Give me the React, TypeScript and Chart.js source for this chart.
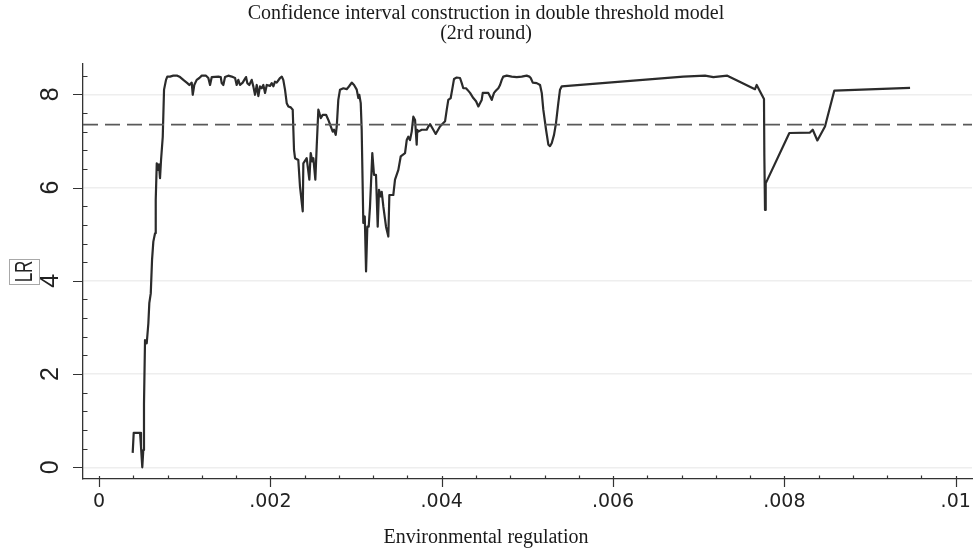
import { useEffect, useRef } from 'react';
import { Chart, registerables } from 'chart.js';

Chart.register(...registerables);

const TITLE_LINES = ['Confidence interval construction in double threshold model', '(2rd round)'];
const X_TITLE = 'Environmental regulation';
const Y_TITLE = 'LR';

const X_TICKS = [0, 0.002, 0.004, 0.006, 0.008, 0.01];
const X_TICK_LABELS = ['0', '.002', '.004', '.006', '.008', '.01'];
const Y_TICKS = [0, 2, 4, 6, 8];
const Y_TICK_LABELS = ['0', '2', '4', '6', '8'];

const THRESHOLD = 7.35;

const ENV_REG = [
  0.000393, 0.000405, 0.000479, 0.000490, 0.000505, 0.000517, 0.000525, 0.000537, 0.000557, 0.000576,
  0.000587, 0.000604, 0.000619, 0.000634, 0.000654, 0.000662, 0.000674, 0.000692, 0.000700, 0.000712,
  0.000724, 0.000744, 0.000759, 0.000782, 0.000797, 0.000829, 0.000867, 0.000914, 0.000946, 0.000984,
  0.001031, 0.001054, 0.001082, 0.001094, 0.001112, 0.001140, 0.001171, 0.001199, 0.001249, 0.001276,
  0.001296, 0.001316, 0.001393, 0.001421, 0.001432, 0.001451, 0.001471, 0.001509, 0.001549, 0.001588,
  0.001607, 0.001626, 0.001646, 0.001677, 0.001696, 0.001716, 0.001731, 0.001754, 0.001782, 0.001801,
  0.001821, 0.001841, 0.001860, 0.001879, 0.001899, 0.001918, 0.001938, 0.001958, 0.001996, 0.002016,
  0.002035, 0.002054, 0.002074, 0.002113, 0.002133, 0.002151, 0.002171, 0.002191, 0.002210, 0.002238,
  0.002261, 0.002276, 0.002288, 0.002326, 0.002346, 0.002378, 0.002385, 0.002424, 0.002455, 0.002471,
  0.002490, 0.002502, 0.002525, 0.002541, 0.002560, 0.002572, 0.002588, 0.002611, 0.002650, 0.002677,
  0.002705, 0.002728, 0.002743, 0.002763, 0.002775, 0.002793, 0.002813, 0.002852, 0.002891, 0.002910,
  0.002930, 0.002950, 0.002977, 0.003008, 0.003027, 0.003038, 0.003055, 0.003066, 0.003085, 0.003102,
  0.003117, 0.003132, 0.003148, 0.003163, 0.003190, 0.003210, 0.003233, 0.003253, 0.003268, 0.003288,
  0.003300, 0.003319, 0.003350, 0.003377, 0.003389, 0.003435, 0.003455, 0.003494, 0.003522, 0.003572,
  0.003592, 0.003610, 0.003630, 0.003650, 0.003669, 0.003689, 0.003708, 0.003715, 0.003727, 0.003767,
  0.003825, 0.003844, 0.003864, 0.003902, 0.003930, 0.003980, 0.004039, 0.004059, 0.004077, 0.004105,
  0.004129, 0.004144, 0.004175, 0.004214, 0.004234, 0.004252, 0.004284, 0.004299, 0.004331, 0.004369,
  0.004401, 0.004428, 0.004447, 0.004467, 0.004479, 0.004506, 0.004544, 0.004564, 0.004584, 0.004596,
  0.004611, 0.004634, 0.004661, 0.004681, 0.004701, 0.004719, 0.004759, 0.004817, 0.004876, 0.004934,
  0.004992, 0.005023, 0.005039, 0.005063, 0.005109, 0.005148, 0.005168, 0.005186, 0.005218, 0.005245,
  0.005264, 0.005284, 0.005311, 0.005334, 0.005361, 0.005381, 0.005401, 0.006820, 0.007074, 0.007171,
  0.007334, 0.007657, 0.007677, 0.007716, 0.007762, 0.007766, 0.007774, 0.007782, 0.008058, 0.008299,
  0.008331, 0.008385, 0.008474, 0.008583, 0.009467,
];

const LR = [
  0.31, 0.74, 0.74, 0.44, 0.00, 0.37, 1.37, 2.73, 2.66, 3.09,
  3.52, 3.73, 4.45, 4.84, 5.02, 5.74, 6.52, 6.38, 6.50, 6.20,
  6.59, 7.09, 8.10, 8.31, 8.38, 8.38, 8.40, 8.40, 8.37, 8.31,
  8.24, 8.20, 8.25, 7.99, 8.20, 8.31, 8.35, 8.40, 8.40, 8.35,
  8.20, 8.37, 8.38, 8.37, 8.24, 8.20, 8.37, 8.40, 8.38, 8.35,
  8.20, 8.31, 8.20, 8.25, 8.31, 8.37, 8.24, 8.20, 8.31, 8.17,
  7.99, 8.20, 7.96, 8.17, 8.13, 8.20, 8.03, 8.20, 8.18, 8.24,
  8.17, 8.27, 8.25, 8.35, 8.38, 8.31, 8.10, 7.81, 7.74, 7.72,
  7.67, 6.81, 6.63, 6.59, 6.02, 5.49, 6.52, 6.63, 6.17, 6.74,
  6.56, 6.63, 6.17, 6.88, 7.67, 7.60, 7.49, 7.56, 7.56, 7.45,
  7.31, 7.20, 7.24, 7.13, 7.31, 7.88, 8.10, 8.13, 8.11, 8.15,
  8.20, 8.25, 8.20, 8.10, 7.92, 7.99, 7.81, 7.24, 5.24, 5.38,
  4.20, 5.16, 5.16, 5.59, 6.74, 6.27, 6.27, 5.16, 5.95, 5.81,
  5.91, 5.59, 5.16, 4.95, 5.84, 5.84, 6.17, 6.38, 6.67, 6.74,
  7.02, 7.09, 7.02, 7.20, 7.52, 7.45, 6.92, 7.24, 7.20, 7.24,
  7.24, 7.31, 7.36, 7.24, 7.15, 7.31, 7.42, 7.67, 7.88, 7.92,
  8.17, 8.33, 8.36, 8.35, 8.24, 8.13, 8.13, 8.10, 8.03, 7.92,
  7.85, 7.74, 7.81, 7.88, 8.03, 8.03, 8.03, 7.96, 7.88, 7.95,
  8.03, 8.08, 8.13, 8.20, 8.31, 8.38, 8.40, 8.38, 8.37, 8.38,
  8.40, 8.38, 8.35, 8.25, 8.24, 8.20, 8.03, 7.67, 7.24, 6.92,
  6.89, 6.95, 7.13, 7.38, 7.81, 8.10, 8.17, 8.38, 8.40, 8.37,
  8.40, 8.11, 8.20, 8.06, 7.90, 6.70, 5.52, 6.09, 7.17, 7.18,
  7.24, 7.01, 7.31, 8.08, 8.14,
];

const X_MIN = -0.000187;
const X_MAX = 0.01019;
const Y_MIN = -0.251;
const Y_MAX = 8.65;
const X_MINOR_STEP = 0.0004;
const Y_MINOR_STEP = 0.4;

const AXIS_COLOR = '#333333';

const stataDecor = {
  id: 'stataDecor',
  afterDraw(chart: any) {
    const { ctx, chartArea } = chart;
    const xs = chart.scales.x;
    const ys = chart.scales.y;
    const bottom = chartArea.bottom;
    const left = chartArea.left;
    ctx.save();
    ctx.strokeStyle = AXIS_COLOR;
    ctx.lineWidth = 1.2;
    ctx.beginPath();
    X_TICKS.forEach((v) => {
      const p = Math.round(xs.getPixelForValue(v)) + 0.5;
      ctx.moveTo(p, bottom - 3);
      ctx.lineTo(p, bottom + 8);
    });
    for (let i = 1; i < 25; i++) {
      if (i % 5 === 0) continue;
      const p = Math.round(xs.getPixelForValue(i * X_MINOR_STEP)) + 0.5;
      ctx.moveTo(p, bottom - 3.5);
      ctx.lineTo(p, bottom);
    }
    Y_TICKS.forEach((v) => {
      const p = Math.round(ys.getPixelForValue(v)) + 0.5;
      ctx.moveTo(left - 10, p);
      ctx.lineTo(left, p);
    });
    for (let i = 1; i <= 21; i++) {
      if (i % 5 === 0) continue;
      const p = Math.round(ys.getPixelForValue(i * Y_MINOR_STEP)) + 0.5;
      ctx.moveTo(left, p);
      ctx.lineTo(left + 4.5, p);
    }
    ctx.stroke();

    const cy = (chartArea.top + chartArea.bottom) / 2;
    const cx = 24.5;
    ctx.strokeStyle = '#a8a8a8';
    ctx.lineWidth = 1;
    ctx.strokeRect(9.5, Math.round(cy - 12.5) + 0.5, 30, 25);
    ctx.translate(cx, cy);
    ctx.rotate(-Math.PI / 2);
    ctx.scale(1, 1.38);
    ctx.fillStyle = '#222222';
    ctx.font = '17px "Liberation Sans", Arial, sans-serif';
    ctx.textAlign = 'center';
    ctx.textBaseline = 'middle';
    ctx.fillText(Y_TITLE, 0, 0.5);
    ctx.restore();
  },
};

export default function App() {
  const ref = useRef<HTMLCanvasElement>(null);

  useEffect(() => {
    document.body.style.margin = '0';
    const canvas = ref.current;
    if (!canvas) return;
    const chart = new Chart(canvas, {
      type: 'line',
      data: {
        datasets: [
          {
            label: 'threshold',
            data: [
              { x: X_MIN, y: THRESHOLD },
              { x: X_MAX, y: THRESHOLD },
            ],
            borderColor: '#595959',
            borderWidth: 1.8,
            borderDash: [15, 7],
            pointRadius: 0,
            fill: false,
          },
          {
            label: 'LR',
            data: ENV_REG.map((x, i) => ({ x, y: LR[i] })),
            borderColor: '#2b2b2b',
            borderWidth: 2.2,
            pointRadius: 0,
            tension: 0,
            fill: false,
            borderJoinStyle: 'round',
          },
        ],
      },
      options: {
        responsive: false,
        devicePixelRatio: 1,
        animation: false,
        events: [],
        layout: { padding: { left: 0, right: 3, top: 0, bottom: 0 } },
        plugins: {
          legend: { display: false },
          tooltip: { enabled: false },
          title: {
            display: true,
            text: TITLE_LINES,
            color: '#1a1a1a',
            font: { family: '"Liberation Serif", "Times New Roman", serif', size: 20, weight: 'normal', lineHeight: 1 },
            padding: { top: 4, bottom: 20 },
          },
          subtitle: {
            display: true,
            position: 'bottom',
            text: X_TITLE,
            color: '#1a1a1a',
            font: { family: '"Liberation Serif", "Times New Roman", serif', size: 20, weight: 'normal', lineHeight: 1 },
            padding: { top: 4, bottom: 3 },
          },
        },
        scales: {
          x: {
            type: 'linear',
            min: X_MIN,
            max: X_MAX,
            afterBuildTicks: (s: any) => {
              s.ticks = X_TICKS.map((value) => ({ value }));
            },
            afterFit: (s: any) => {
              s.height = 45;
              s.paddingLeft = 0;
              s.paddingRight = 0;
            },
            ticks: {
              autoSkip: false,
              maxRotation: 0,
              minRotation: 0,
              padding: 12,
              color: '#222222',
              font: { family: '"DejaVu Sans", sans-serif', size: 19 },
              callback: (_v: any, i: number) => X_TICK_LABELS[i],
            },
            grid: { display: false, drawTicks: false },
            border: { display: true, color: AXIS_COLOR, width: 1.3 },
          },
          y: {
            type: 'linear',
            min: Y_MIN,
            max: Y_MAX,
            afterBuildTicks: (s: any) => {
              s.ticks = Y_TICKS.map((value) => ({ value }));
            },
            afterFit: (s: any) => {
              s.width = 83;
              s.paddingTop = 0;
              s.paddingBottom = 0;
            },
            ticks: {
              autoSkip: false,
              minRotation: 90,
              maxRotation: 90,
              crossAlign: 'center',
              padding: 24.5,
              color: '#222222',
              font: { family: '"Liberation Sans", Arial, sans-serif', size: 25 },
              callback: (_v: any, i: number) => Y_TICK_LABELS[i],
            },
            grid: { display: true, drawTicks: false, color: '#eeeeee', lineWidth: 1.5 },
            border: { display: true, color: AXIS_COLOR, width: 1.3 },
          },
        },
      } as any,
      plugins: [stataDecor],
    });
    return () => chart.destroy();
  }, []);

  return (
    <canvas
      ref={ref}
      width={975}
      height={551}
      style={{ display: 'block', width: '975px', height: '551px' }}
    />
  );
}
